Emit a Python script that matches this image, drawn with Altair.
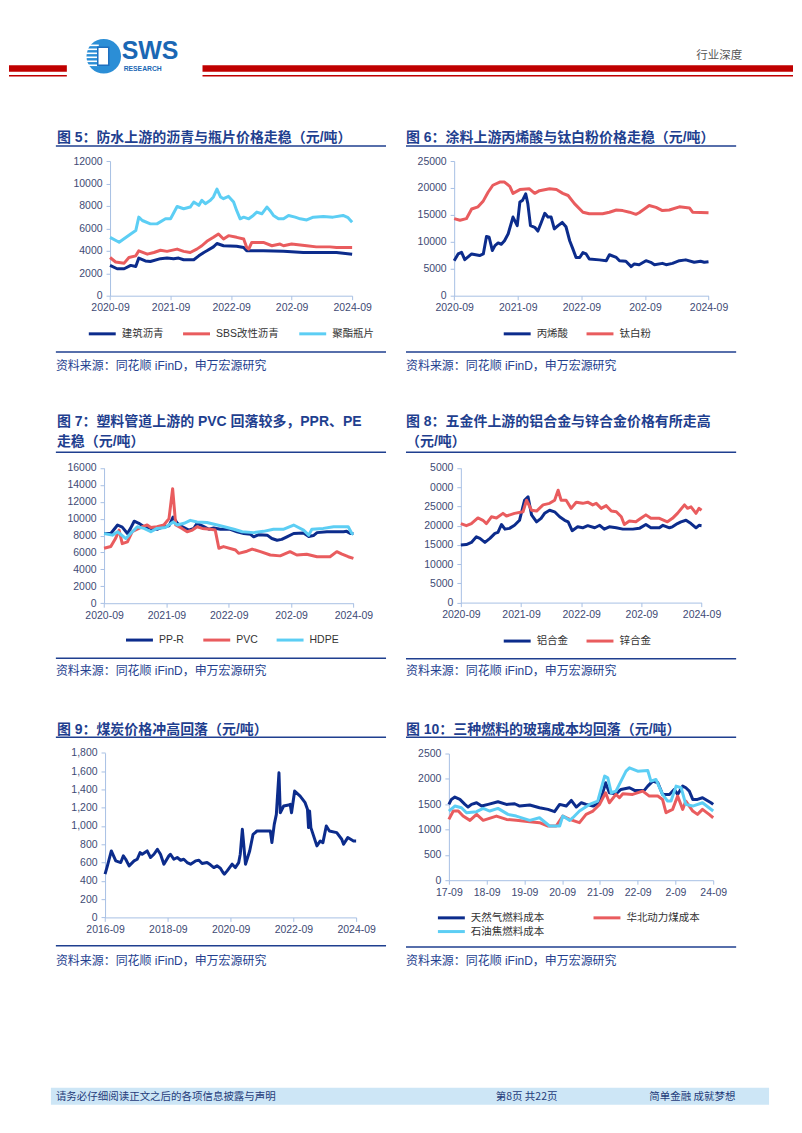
import altair as alt
import pandas as pd

# ---------------- texts ----------------
HEADER_TAG = "行业深度"
LOGO_BIG = "SWS"
LOGO_SMALL = "RESEARCH"
SOURCE = "资料来源：同花顺 iFinD，申万宏源研究"
FOOTER_LEFT = "请务必仔细阅读正文之后的各项信息披露与声明"
FOOTER_MID = "第8页 共22页"
FOOTER_RIGHT = "简单金融 成就梦想"

TITLE5 = ["图 5：防水上游的沥青与瓶片价格走稳（元/吨）"]
TITLE6 = ["图 6：涂料上游丙烯酸与钛白粉价格走稳（元/吨）"]
TITLE7 = ["图 7：塑料管道上游的 PVC 回落较多，PPR、PE", "走稳（元/吨）"]
TITLE8 = ["图  8：五金件上游的铝合金与锌合金价格有所走高", "（元/吨）"]
TITLE9 = ["图 9：煤炭价格冲高回落（元/吨）"]
TITLE10 = ["图 10：三种燃料的玻璃成本均回落（元/吨）"]

# ---------------- tick labels ----------------
X_TICKS_A = [0, 12, 24, 36, 48]
X_LABELS_A = ["2020-09", "2021-09", "2022-09", "202-09", "2024-09"]
X_TICKS_9 = [0, 24, 48, 72, 96]
X_LABELS_9 = ["2016-09", "2018-09", "2020-09", "2022-09", "2024-09"]
X_TICKS_10 = [0, 12, 24, 36, 48, 60, 72, 84]
X_LABELS_10 = ["17-09", "18-09", "19-09", "20-09", "21-09", "22-09", "2-09", "24-09"]

Y_TICKS_5 = [0, 2000, 4000, 6000, 8000, 10000, 12000]
Y_LABELS_5 = ["0", "2000", "4000", "6000", "8000", "10000", "12000"]
Y_TICKS_6 = [0, 5000, 10000, 15000, 20000, 25000]
Y_LABELS_6 = ["0", "5000", "10000", "15000", "20000", "25000"]
Y_TICKS_7 = [0, 2000, 4000, 6000, 8000, 10000, 12000, 14000, 16000]
Y_LABELS_7 = ["0", "2000", "4000", "6000", "8000", "10000", "12000", "14000", "16000"]
Y_TICKS_8 = [0, 5000, 10000, 15000, 20000, 25000, 30000, 35000]
Y_LABELS_8 = ["0", "5000", "10000", "15000", "20000", "25000", "0000", "5000"]
Y_TICKS_9 = [0, 200, 400, 600, 800, 1000, 1200, 1400, 1600, 1800]
Y_LABELS_9 = ["0", "200", "400", "600", "800", "1,000", "1,200", "1,400", "1,600", "1,800"]
Y_TICKS_10 = [0, 500, 1000, 1500, 2000, 2500]
Y_LABELS_10 = ["0", "500", "1000", "1500", "2000", "2500"]

# ---------------- series (t = months since first tick) ----------------
NAMES5 = ["建筑沥青", "SBS改性沥青", "聚酯瓶片"]
ASPH_T = [0, 1.4, 2.8, 4.1, 5.1, 5.7, 7.0, 8.0, 10.0, 11.3, 12.6, 13.6, 14.6, 16.6, 17.6, 18.6, 19.2, 20.5, 21.2, 22.5, 25.1, 26.5, 27.1, 30.4, 34.4, 38.3, 44.9, 48]
ASPH_V = [2700, 2400, 2400, 2700, 2600, 3350, 3100, 3050, 3300, 3350, 3300, 3350, 3200, 3200, 3550, 3850, 4000, 4350, 4650, 4450, 4400, 4300, 4000, 4000, 3950, 3850, 3850, 3700]
SBS_T = [0, 1.1, 2.8, 3.75, 5.1, 5.7, 7.4, 8.7, 10.0, 11.3, 13.3, 14.6, 15.9, 17.2, 18.2, 19.2, 20.5, 21.5, 22.5, 23.5, 25.1, 26.5, 27.1, 27.5, 28.1, 30.4, 32.1, 33.7, 34.4, 36.0, 39.0, 40.9, 43.6, 44.9, 48]
SBS_V = [3400, 3000, 2900, 3400, 3550, 4000, 3700, 3850, 4050, 3950, 4150, 3950, 3850, 4150, 4450, 4850, 5200, 5500, 5050, 5350, 5200, 5050, 4300, 4150, 4750, 4750, 4450, 4600, 4450, 4600, 4450, 4350, 4350, 4300, 4300]
PET_T = [0, 1.8, 4.1, 5.1, 5.7, 6.4, 8.0, 9.3, 11.0, 12.0, 13.3, 14.6, 15.9, 16.6, 17.6, 18.2, 18.9, 19.9, 20.5, 21.2, 21.9, 22.5, 23.5, 24.5, 25.1, 25.8, 26.5, 27.5, 28.4, 29.1, 30.1, 31.1, 31.7, 32.4, 33.4, 34.4, 35.4, 36.7, 37.7, 39.0, 40.3, 42.3, 44.2, 46.2, 47.2, 48]
PET_V = [5200, 4760, 5500, 5800, 7000, 6700, 6400, 6400, 6850, 6850, 7950, 7750, 7900, 8350, 8050, 8500, 8200, 8500, 8800, 9500, 8800, 8650, 8850, 8350, 7600, 6850, 7000, 6850, 7150, 7450, 7300, 7900, 7600, 7150, 6850, 6850, 7150, 7000, 6850, 6750, 7000, 7050, 7000, 7150, 6950, 6550]

NAMES6 = ["丙烯酸", "钛白粉"]
ACRY_T = [0, 0.75, 1.4, 2.0, 3.3, 4.8, 5.5, 6.1, 6.6, 7.2, 7.7, 8.3, 8.9, 9.5, 10.2, 11.1, 11.9, 12.4, 12.9, 13.5, 13.9, 14.4, 15.2, 15.8, 16.4, 17.1, 17.7, 18.3, 18.9, 19.6, 20.4, 21.1, 21.8, 22.4, 23.0, 23.7, 24.3, 24.9, 25.5, 27.4, 28.7, 29.3, 30.6, 31.2, 32.4, 33.4, 34.0, 34.9, 36.2, 37.1, 37.8, 39.3, 40.0, 41.2, 42.5, 43.7, 45.3, 46.5, 47.2, 48]
ACRY_V = [6500, 7750, 8050, 6700, 7750, 7450, 7750, 11000, 10850, 8400, 9300, 9800, 9550, 10200, 11500, 14600, 13000, 17400, 17700, 18900, 17100, 13000, 12700, 12000, 13500, 15300, 14600, 14600, 12400, 13000, 13600, 12800, 10200, 8700, 7100, 7100, 8000, 7750, 6800, 6650, 6500, 7600, 7100, 6500, 6400, 5400, 5900, 5750, 6500, 6200, 5750, 6000, 5750, 6000, 6500, 6650, 6200, 6400, 6200, 6300]
TIO2_T = [0, 1.1, 2.3, 3.3, 4.5, 5.5, 6.4, 7.3, 8.6, 9.5, 10.5, 11.1, 12.4, 14.2, 15.2, 16.1, 18.0, 19.3, 20.5, 21.5, 22.7, 24.3, 25.5, 28.0, 29.3, 30.6, 31.8, 33.1, 34.3, 34.9, 36.8, 38.1, 39.3, 40.6, 42.5, 44.4, 45.0, 48]
TIO2_V = [14300, 14000, 14300, 16100, 16500, 17600, 19200, 20500, 21100, 21100, 20300, 19000, 19700, 19850, 19000, 19500, 19850, 19700, 19000, 18600, 17100, 15500, 15200, 15200, 15500, 15900, 15800, 15500, 15100, 15400, 16750, 16400, 15800, 15900, 16500, 16300, 15500, 15400]

NAMES7 = ["PP-R", "PVC", "HDPE"]
PPR_T = [0, 1.3, 2.6, 3.5, 4.5, 5.1, 5.8, 6.7, 7.7, 9.0, 10.2, 11.5, 12.5, 13.3, 14.1, 15.0, 16.3, 17.3, 17.9, 19.2, 20.2, 21.1, 22.4, 24.3, 25.6, 26.9, 28.2, 28.8, 29.8, 31.4, 32.3, 33.3, 34.2, 35.2, 36.5, 38.4, 39.4, 40.3, 41.0, 42.9, 46.1, 46.7, 47.4, 48]
PPR_V = [8250, 8250, 9250, 9000, 8250, 8850, 9700, 9450, 9050, 8850, 8750, 9050, 9150, 10200, 9450, 9050, 8650, 8850, 9450, 9050, 8750, 8900, 8750, 8750, 8450, 8250, 8150, 7850, 8100, 8050, 7650, 7450, 7550, 7850, 8250, 8300, 7900, 8000, 8350, 8450, 8450, 8500, 8250, 8250]
PVC_T = [0, 1.3, 2.2, 2.9, 3.5, 4.5, 5.4, 6.4, 7.4, 8.3, 9.0, 10.2, 11.5, 12.5, 13.2, 13.8, 15.0, 16.0, 17.0, 17.9, 18.9, 20.5, 21.4, 22.1, 23.0, 25.3, 25.9, 27.5, 28.5, 30.1, 32.0, 33.9, 35.8, 37.1, 39.0, 41.0, 43.5, 44.8, 45.8, 47.0, 48]
PVC_V = [6500, 6700, 7650, 8650, 7050, 7250, 8450, 8750, 9050, 9250, 8950, 9050, 9250, 10000, 13550, 9250, 8850, 8450, 8650, 9050, 8850, 8750, 8650, 6500, 6700, 6300, 5900, 6150, 6400, 6100, 5700, 5600, 6100, 5700, 5800, 5500, 5500, 6100, 5800, 5500, 5300]
HDPE_T = [0, 1.6, 2.6, 4.2, 5.1, 6.4, 7.7, 9.0, 10.2, 11.8, 13.3, 14.1, 15.4, 16.6, 17.9, 19.8, 21.8, 23.7, 25.0, 26.6, 28.8, 30.7, 32.6, 34.6, 36.5, 38.4, 39.4, 40.0, 42.2, 44.2, 47.0, 47.7, 48]
HDPE_V = [8250, 8050, 8450, 7650, 8250, 9050, 8850, 8450, 8850, 8950, 9600, 9250, 9450, 9800, 9600, 9550, 9250, 8950, 8750, 8450, 8350, 8500, 8750, 8750, 9250, 8650, 8050, 8750, 8850, 9050, 9050, 8250, 8150]

NAMES8 = ["铝合金", "锌合金"]
ALU_T = [0, 1.1, 2.1, 3.1, 3.8, 4.8, 5.8, 6.8, 7.4, 8.1, 8.8, 9.7, 10.7, 11.7, 12.3, 12.7, 13.4, 14.1, 15.1, 16.0, 16.7, 17.7, 18.7, 19.7, 20.7, 21.4, 22.2, 23.3, 24.3, 25.3, 26.7, 27.7, 28.6, 29.6, 31.0, 32.3, 34.3, 35.6, 36.9, 37.9, 39.6, 40.3, 41.6, 42.2, 43.2, 43.9, 44.9, 45.9, 46.9, 47.5, 48]
ALU_V = [14950, 15100, 15650, 17100, 16700, 15650, 16700, 18000, 18250, 20300, 19100, 19300, 20100, 21400, 24500, 26600, 27500, 22800, 21000, 21900, 23200, 24000, 23600, 22300, 21400, 21000, 18700, 19700, 19450, 20000, 19450, 20100, 19100, 19700, 19450, 19100, 19100, 19300, 20300, 19450, 19450, 20100, 19450, 19700, 20550, 21000, 21400, 20550, 19450, 20100, 20000]
ZINC_T = [0, 1.1, 2.1, 3.4, 4.4, 5.1, 6.1, 7.1, 8.4, 9.1, 10.7, 12.4, 13.1, 14.1, 15.1, 16.4, 17.7, 18.7, 19.4, 20.0, 21.0, 22.0, 23.0, 24.3, 25.3, 26.3, 27.0, 28.0, 29.0, 30.0, 31.0, 32.0, 32.6, 33.6, 34.9, 35.9, 36.9, 37.9, 39.6, 41.2, 42.2, 43.2, 44.6, 45.2, 45.9, 46.9, 47.5, 48]
ZINC_V = [20550, 20000, 20550, 22000, 21400, 20550, 22300, 22000, 23200, 22500, 23200, 23600, 26600, 24000, 23800, 25400, 25800, 26600, 29200, 26600, 26600, 24500, 26100, 25800, 26100, 25400, 25800, 24500, 25200, 23800, 23600, 22300, 20300, 21200, 21000, 21900, 22800, 21900, 21900, 21000, 21900, 23200, 25400, 24500, 24900, 23200, 24500, 24000]

NAMES9 = ["煤炭价格"]
COAL_T = [0, 0.9, 2.4, 4.1, 6.0, 7.0, 7.9, 9.2, 11.1, 12.3, 13.4, 14.2, 16.1, 17.4, 18.7, 20.0, 21.2, 22.5, 24.4, 25.0, 26.3, 27.6, 28.9, 30.1, 31.4, 32.7, 34.6, 35.9, 37.1, 39.0, 40.3, 41.6, 42.8, 44.1, 45.1, 45.6, 46.7, 48.6, 49.8, 51.1, 51.7, 52.5, 53.7, 55.3, 56.6, 58.1, 60.6, 63.2, 63.8, 64.7, 65.5, 66.5, 67.0, 68.3, 70.2, 70.8, 71.3, 72.5, 74.6, 76.5, 77.4, 77.8, 78.2, 78.7, 81.0, 82.3, 83.3, 84.6, 85.8, 88.6, 90.5, 91.2, 92.8, 95.0, 96]
COAL_V = [473, 564, 727, 618, 600, 673, 636, 564, 618, 636, 709, 691, 727, 655, 691, 745, 691, 582, 673, 691, 636, 655, 625, 636, 600, 582, 618, 625, 590, 600, 575, 545, 564, 538, 491, 473, 509, 582, 545, 600, 691, 964, 582, 727, 909, 945, 945, 945, 818, 1018, 1127, 1582, 1145, 1218, 1229, 1236, 1145, 1382, 1327, 1255, 1182, 982, 1164, 982, 782, 836, 818, 1000, 945, 927, 855, 800, 873, 836, 836]

NAMES10 = ["天然气燃料成本", "华北动力煤成本", "石油焦燃料成本"]
GAS_T = [0, 0.8, 1.9, 3.5, 5.1, 6.1, 7.2, 8.8, 10.4, 12.5, 15.6, 18.3, 20.9, 22.5, 25.7, 28.8, 31.5, 33.6, 35.2, 37.3, 38.9, 40.5, 42.1, 43.6, 45.8, 47.9, 48.9, 49.8, 51.0, 53.1, 54.7, 57.4, 59.0, 62.1, 63.2, 64.8, 66.4, 67.9, 70.1, 71.6, 72.7, 74.3, 75.3, 76.4, 77.5, 79.0, 80.6, 83.3, 84]
GAS_V = [1496, 1594, 1640, 1594, 1496, 1444, 1496, 1529, 1463, 1496, 1549, 1496, 1509, 1463, 1483, 1430, 1398, 1352, 1496, 1463, 1575, 1444, 1529, 1496, 1463, 1529, 1726, 1923, 1726, 1706, 1791, 1824, 1772, 1772, 1857, 1955, 1923, 1693, 1693, 1791, 1693, 1857, 1824, 1759, 1594, 1594, 1627, 1529, 1496]
COALF_T = [0, 1.4, 3.0, 4.5, 6.7, 8.8, 10.9, 15.1, 18.3, 21.4, 25.7, 28.8, 31.5, 34.1, 36.2, 38.4, 40.5, 41.5, 43.6, 45.8, 47.9, 49.8, 51.0, 53.1, 54.2, 55.3, 58.4, 61.6, 63.7, 66.4, 67.9, 69.0, 71.1, 72.7, 74.3, 75.3, 77.5, 79.0, 80.6, 82.7, 84]
COALF_V = [1200, 1365, 1365, 1266, 1181, 1299, 1181, 1266, 1200, 1181, 1155, 1135, 1070, 1070, 1266, 1200, 1155, 1135, 1299, 1365, 1496, 1726, 1529, 1693, 1627, 1706, 1693, 1759, 1660, 1660, 1594, 1332, 1398, 1660, 1398, 1562, 1365, 1299, 1398, 1299, 1233]
COKE_T = [0, 1.9, 4.0, 5.6, 8.8, 10.9, 13.0, 15.6, 18.8, 21.4, 25.7, 28.8, 32.0, 35.2, 36.2, 38.4, 39.4, 41.5, 44.7, 47.3, 49.5, 50.5, 51.6, 53.1, 56.3, 57.4, 60.0, 63.2, 64.2, 65.8, 67.9, 69.5, 70.6, 72.2, 73.8, 75.3, 77.5, 80.6, 84]
COKE_V = [1365, 1463, 1430, 1332, 1352, 1417, 1365, 1417, 1299, 1266, 1181, 1233, 1070, 1070, 1266, 1181, 1233, 1365, 1496, 1562, 2054, 2020, 1726, 1759, 2152, 2218, 2152, 2165, 1955, 1988, 1693, 1562, 1562, 1857, 1824, 1496, 1463, 1529, 1365]

# ---------------- style ----------------
NAVY_LINE = "#0C2C8C"
RED_LINE = "#E95C5E"
CYAN_LINE = "#5CCEF4"
TITLE_C = "#1F3F8F"
SRC_C = "#24418F"
AXIS_C = "#A8C0E4"
LABEL_C = "#3E4A74"
RED_BAND = "#C00000"
FONT_MIX = "Liberation Sans, Noto Sans CJK SC, sans-serif"
FONT_CN = "Noto Sans CJK SC, sans-serif"

dummy = pd.DataFrame({"k": [0]})


def long_df(items):
    rows = []
    for name, ts, vs in items:
        for t, v in zip(ts, vs):
            rows.append({"t": t, "v": v, "s": name})
    return pd.DataFrame(rows)


def lab_expr(vals, labs):
    return ("[" + ",".join("'%s'" % l for l in labs) + "][indexof([" +
            ",".join(str(v) for v in vals) + "], datum.value)]")


def text_layer(txt, x, y, size, bold=False, color=TITLE_C, font=FONT_MIX):
    return alt.Chart(pd.DataFrame({"txt": [txt]})).mark_text(
        align="left", baseline="middle", font=font, fontSize=size,
        fontWeight="bold" if bold else "normal", color=color
    ).encode(x=alt.value(x), y=alt.value(y), text="txt:N")


def hrule(x1, x2, y, color=TITLE_C, width=1.5):
    return alt.Chart(dummy).mark_rule(color=color, strokeWidth=width).encode(
        x=alt.value(x1), x2=alt.value(x2), y=alt.value(y))


def rect(x1, x2, y1, y2, color):
    return alt.Chart(dummy).mark_rect(color=color).encode(
        x=alt.value(x1), x2=alt.value(x2), y=alt.value(y1), y2=alt.value(y2))


AX = dict(grid=False, title=None, domainColor=AXIS_C, domainWidth=1, tickColor=AXIS_C,
          tickSize=4, labelColor=LABEL_C, labelFont="Liberation Sans", labelFontSize=10.5,
          labelFlush=False, labelOverlap=False)


def legend(lx, ly, colpad, columns=None):
    kw = dict(orient="none", legendX=lx - 2, legendY=ly, direction="horizontal", title=None,
              symbolType="M-2.7,0H2.7", symbolSize=100, symbolStrokeWidth=3, symbolOffset=7,
              labelOffset=13, labelFont=FONT_MIX, labelFontSize=10.5, labelColor="#333333",
              columnPadding=colpad, rowPadding=1, padding=0)
    if columns:
        kw["columns"] = columns
    return alt.Legend(**kw)


def lines(df, names, colors, H, xr, yr, xdom, ydom, xt, xl, yt, yl, leg):
    xaxis = alt.Axis(values=xt, labelExpr=lab_expr(xt, xl), offset=yr[0] - H,
                     labelPadding=3, **AX)
    yaxis = alt.Axis(values=yt, labelExpr=lab_expr(yt, yl), offset=-xr[0],
                     labelPadding=4, **AX)
    return alt.Chart(df).mark_line(strokeWidth=3, strokeJoin="round").encode(
        x=alt.X("t:Q", scale=alt.Scale(domain=xdom, range=xr, nice=False, zero=False), axis=xaxis),
        y=alt.Y("v:Q", scale=alt.Scale(domain=ydom, range=yr, nice=False, zero=False), axis=yaxis),
        color=alt.Color("s:N", sort=names, scale=alt.Scale(domain=names, range=colors), legend=leg),
    )


def frame(titles, tx, ty0, rx1, rx2, rtop, rbot, src_y):
    layers = []
    for i, t in enumerate(titles):
        layers.append(text_layer(t, tx, ty0 + 20 * i, 14, bold=True))
    layers.append(hrule(rx1, rx2, rtop))
    layers.append(hrule(rx1, rx2, rbot))
    layers.append(text_layer(SOURCE, rx1, src_y, 12, color=SRC_C))
    return layers


W = 393
H1, H2, H3 = 382, 310, 425

# ---------------- panel 5 (with header, left) ----------------
df5 = long_df([(NAMES5[0], ASPH_T, ASPH_V), (NAMES5[1], SBS_T, SBS_V), (NAMES5[2], PET_T, PET_V)])
l5 = lines(df5, NAMES5, [NAVY_LINE, RED_LINE, CYAN_LINE], H1, [101.3, 344], [287, 152],
           [0, 48], [0, 12000], X_TICKS_A, X_LABELS_A, Y_TICKS_5, Y_LABELS_5,
           legend(82, 318.5, 13.5))
header_left = [
    rect(0, 58, 56, 62.5, RED_BAND), rect(194, W, 56, 62.5, RED_BAND),
    hrule(0, 58, 66.5, RED_BAND, 1.3), hrule(194, W, 66.5, RED_BAND, 1.3),
    alt.Chart(dummy).mark_point(shape="circle", filled=True, size=1200, color="#2B8ED6", opacity=1)
    .encode(x=alt.value(95), y=alt.value(47)),
]
for yy in [36, 40, 44, 48, 52, 56]:
    header_left.append(hrule(76, 90, yy, "white", 1.6))
header_left += [
    alt.Chart(dummy).mark_rect(color="white", stroke="#1D6FBF", strokeWidth=1.5)
    .encode(x=alt.value(89), x2=alt.value(100), y=alt.value(38), y2=alt.value(56)),
    text_layer(LOGO_BIG, 113, 42, 25, bold=True, color="#1A67B4", font="Liberation Sans"),
    text_layer(LOGO_SMALL, 115, 60, 6.8, bold=True, color="#1A67B4", font="Liberation Sans"),
]
p5 = alt.layer(l5, *header_left, *frame(TITLE5, 48, 128.5, 47, 378, 137, 343.5, 357.5)).properties(width=W, height=H1)

# ---------------- panel 6 (with header, right) ----------------
df6 = long_df([(NAMES6[0], ACRY_T, ACRY_V), (NAMES6[1], TIO2_T, TIO2_V)])
l6 = lines(df6, NAMES6, [NAVY_LINE, RED_LINE], H1, [53.3, 308.3], [287, 152],
           [0, 48], [0, 25000], X_TICKS_A, X_LABELS_A, Y_TICKS_6, Y_LABELS_6,
           legend(105, 318.5, 12))
header_right = [
    rect(0, W, 56, 62.5, RED_BAND), hrule(0, W, 66.5, RED_BAND, 1.3),
    text_layer(HEADER_TAG, 296, 47, 11.5, color="#555555", font=FONT_CN),
]
p6 = alt.layer(l6, *header_right, *frame(TITLE6, 5, 128.5, 5, 336, 137, 343.5, 357.5)).properties(width=W, height=H1)

# ---------------- panel 7 ----------------
df7 = long_df([(NAMES7[0], PPR_T, PPR_V), (NAMES7[1], PVC_T, PVC_V), (NAMES7[2], HDPE_T, HDPE_V)])
l7 = lines(df7, NAMES7, [NAVY_LINE, RED_LINE, CYAN_LINE], H2, [95.3, 345.3], [213.3, 77.7],
           [0, 48], [0, 16000], X_TICKS_A, X_LABELS_A, Y_TICKS_7, Y_LABELS_7,
           legend(119.3, 243.5, 12.5))
p7 = alt.layer(l7, *frame(TITLE7, 48, 32, 47, 378, 62, 268.5, 281.7)).properties(width=W, height=H2)

# ---------------- panel 8 ----------------
df8 = long_df([(NAMES8[0], ALU_T, ALU_V), (NAMES8[1], ZINC_T, ZINC_V)])
l8 = lines(df8, NAMES8, [NAVY_LINE, RED_LINE], H2, [60, 301.3], [212.7, 77.7],
           [0, 48], [0, 35000], X_TICKS_A, X_LABELS_A, Y_TICKS_8, Y_LABELS_8,
           legend(105, 244.5, 12))
p8 = alt.layer(l8, *frame(TITLE8, 5, 32, 5, 336, 62, 269, 281.7)).properties(width=W, height=H2)

# ---------------- panel 9 (with footer, left) ----------------
df9 = long_df([(NAMES9[0], COAL_T, COAL_V)])
l9 = lines(df9, NAMES9, [NAVY_LINE], H3, [96.3, 348], [218.3, 53.3],
           [0, 96], [0, 1800], X_TICKS_9, X_LABELS_9, Y_TICKS_9, Y_LABELS_9, None)
footer_left = [
    rect(42, W, 389, 406, "#CDE6F6"),
    text_layer(FOOTER_LEFT, 47, 398, 10.5, color="#1F3C7A", font=FONT_CN),
]
p9 = alt.layer(l9, *footer_left, *frame(TITLE9, 48, 30, 47, 378, 37.7, 246.7, 261.7)).properties(width=W, height=H3)

# ---------------- panel 10 (with footer, right) ----------------
df10 = long_df([(NAMES10[0], GAS_T, GAS_V), (NAMES10[1], COALF_T, COALF_V), (NAMES10[2], COKE_T, COKE_V)])
l10 = lines(df10, NAMES10, [NAVY_LINE, RED_LINE, CYAN_LINE], H3, [48, 313], [181, 54],
            [0, 84], [0, 2500], X_TICKS_10, X_LABELS_10, Y_TICKS_10, Y_LABELS_10,
            legend(39, 212, 43, columns=2))
footer_right = [
    rect(0, 369, 389, 406, "#CDE6F6"),
    text_layer(FOOTER_MID, 95, 398, 10.5, color="#1F3C7A", font=FONT_CN),
    text_layer(FOOTER_RIGHT, 249, 398, 10.5, color="#1F3C7A", font=FONT_CN),
]
p10 = alt.layer(l10, *footer_right, *frame(TITLE10, 5, 30, 5, 336, 37.7, 248, 262)).properties(width=W, height=H3)

chart = alt.concat(p5, p6, p7, p8, p9, p10, columns=2, spacing=0, bounds="flush", align="each") \
    .resolve_scale(color="independent", x="independent", y="independent") \
    .resolve_legend(color="independent") \
    .properties(padding=0, background="white") \
    .configure_view(stroke=None, strokeWidth=0)

chart.save("out.html", embed_options={"renderer": "svg", "actions": False})
